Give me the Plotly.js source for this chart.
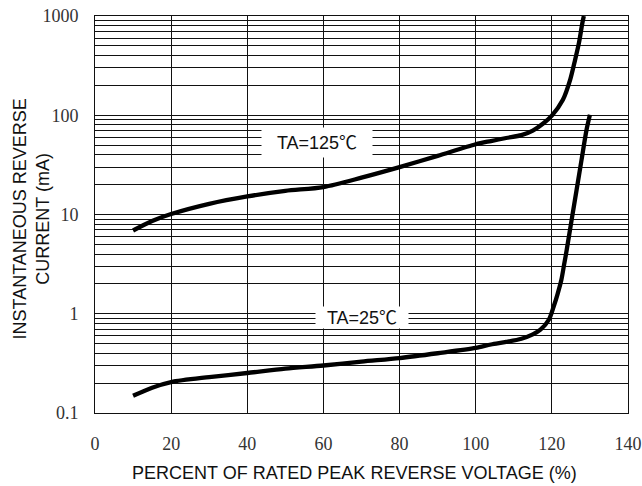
<!DOCTYPE html>
<html>
<head>
<meta charset="utf-8">
<script src="https://cdn.plot.ly/plotly-3.0.1.min.js"></script>
<style>html,body{margin:0;padding:0;background:#fff;}#chart{width:642px;height:486px;}</style>
</head>
<body>
<div id="chart"></div>
<script>
// Data
const percentRated125 = [10, 15, 20, 30, 40, 50, 60, 70, 80, 90, 100, 104, 108, 112, 115, 117.8, 120, 122.9, 124.8, 126.1, 127.1, 128, 128.4];
const current125 = [6.9, 8.6, 10.1, 12.8, 15.2, 17.3, 18.9, 23.5, 30, 39, 51, 55, 59, 63, 70, 83, 99, 143, 227, 361, 532, 845, 1000];

const percentRated25 = [10, 15, 20, 30, 40, 50, 60, 70, 80, 90, 100, 104, 108, 112, 115, 117, 119.2, 120.5, 121.5, 122.5, 123.2, 123.9, 125.2, 126.5, 127.8, 129.1, 130];
const current25 = [0.149, 0.18, 0.205, 0.23, 0.253, 0.28, 0.301, 0.33, 0.358, 0.40, 0.452, 0.49, 0.52, 0.56, 0.62, 0.69, 0.87, 1.19, 1.58, 2.2, 3.1, 4.4, 8.85, 17.7, 35.6, 71, 101];

const xTickVals = [0, 20, 40, 60, 80, 100, 120, 140];
const yDecades = [0.1, 1, 10, 100, 1000];
const yDecadeLabels = ['0.1', '1', '10', '100', '1000'];

const labels = [
  {text: 'TA=125℃', x: 58.3, y: 53.3, w: 110, h: 29},
  {text: 'TA=25℃', x: 70.2, y: 0.923, w: 92, h: 21}
];

// build log tick values (decades labelled, minor 2..9 unlabelled)
const yTickVals = [];
const yTickText = [];
for (let d = 0; d < yDecades.length; d++) {
  yTickVals.push(yDecades[d]);
  yTickText.push(yDecadeLabels[d]);
  if (d < yDecades.length - 1) {
    for (let m = 2; m <= 9; m++) {
      yTickVals.push(+(yDecades[d] * m).toPrecision(3));
      yTickText.push('');
    }
  }
}

const lineStyle = {color: '#000', width: 4.3, shape: 'spline', smoothing: 0.8};
const traces = [
  {x: percentRated125, y: current125, mode: 'lines', line: lineStyle, hoverinfo: 'skip'},
  {x: percentRated25, y: current25, mode: 'lines', line: lineStyle, hoverinfo: 'skip'}
];

const sans = "Liberation Sans, Noto Sans CJK SC, sans-serif";
const serif = "Liberation Serif, serif";

const annotations = labels.map(l => ({
  x: l.x, y: Math.log10(l.y), xref: 'x', yref: 'y',
  text: l.text, showarrow: false, xanchor: 'center', yanchor: 'middle',
  bgcolor: '#fff', borderpad: 0, width: l.w, height: l.h,
  font: {family: sans, size: 18, color: '#111'}
}));
annotations.push({
  x: 0, xref: 'paper', y: 0.5, yref: 'paper', xanchor: 'center', yanchor: 'middle',
  xshift: -64, yshift: -5, textangle: -90, showarrow: false,
  text: 'INSTANTANEOUS REVERSE<br>CURRENT (mA)',
  font: {family: sans, size: 18, color: '#111'}
});
annotations.push({
  x: 0.5, xref: 'paper', y: 0, yref: 'paper', xanchor: 'center', yanchor: 'middle',
  xshift: -7, yshift: -60, showarrow: false,
  text: 'PERCENT OF RATED PEAK REVERSE VOLTAGE (%)',
  font: {family: sans, size: 18, color: '#111'}
});

const layout = {
  width: 642, height: 486,
  margin: {l: 95, r: 14, t: 16, b: 73},
  paper_bgcolor: '#fff', plot_bgcolor: '#fff',
  showlegend: false,
  font: {family: serif},
  xaxis: {
    range: [0, 140], tickvals: xTickVals, ticks: '', ticklabelstandoff: 14,
    showgrid: true, gridcolor: '#111', gridwidth: 1, zeroline: false,
    showline: true, linecolor: '#111', linewidth: 1, mirror: true,
    tickfont: {family: serif, size: 18, color: '#333'}
  },
  yaxis: {
    type: 'log', range: [-1, 3], tickvals: yTickVals, ticktext: yTickText, ticks: '',
    ticklabelstandoff: 12,
    showgrid: true, gridcolor: '#111', gridwidth: 1, zeroline: false,
    showline: true, linecolor: '#111', linewidth: 1, mirror: true,
    tickfont: {family: serif, size: 18, color: '#333'}
  },
  annotations: annotations
};

Plotly.newPlot('chart', traces, layout, {staticPlot: true, displayModeBar: false});
</script>
</body>
</html>
